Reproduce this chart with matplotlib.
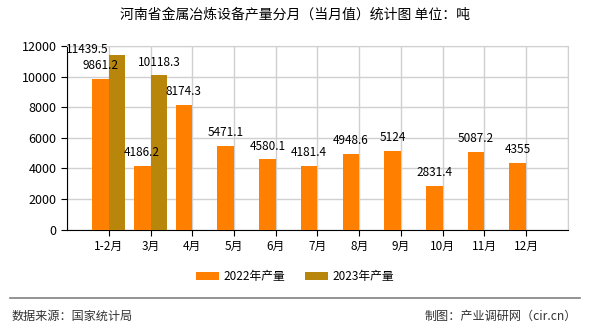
import matplotlib
matplotlib.use("Agg")
import matplotlib.pyplot as plt
import numpy as np

plt.rcParams['font.family'] = ['Noto Sans CJK SC', 'DejaVu Sans']

months = ['1-2月', '3月', '4月', '5月', '6月', '7月', '8月', '9月', '10月', '11月', '12月']
prod_2022 = [9861.2, 4186.2, 8174.3, 5471.1, 4580.1, 4181.4, 4948.6, 5124, 2831.4, 5087.2, 4355]
prod_2023 = [11439.5, 10118.3]
labels_2022 = ['9861.2', '4186.2', '8174.3', '5471.1', '4580.1', '4181.4', '4948.6', '5124', '2831.4', '5087.2', '4355']
labels_2023 = ['11439.5', '10118.3']

c22 = '#FF8000'
c23 = '#B8860B'

fig = plt.figure(figsize=(5.9, 3.3), dpi=100)
ax = fig.add_axes([0.1136, 0.3045, 0.849, 0.556])

x = np.arange(len(months))
w = 0.4
b22 = ax.bar(x - w / 2, prod_2022, w, color=c22, label='2022年产量', zorder=3)
b23 = ax.bar(x[:len(prod_2023)] + w / 2, prod_2023, w, color=c23, label='2023年产量', zorder=3)

for rect, s in zip(b22, labels_2022):
    ax.annotate(s, (rect.get_x() + rect.get_width() / 2, rect.get_height()),
                xytext=(0, 5), textcoords='offset points', ha='center', va='bottom',
                fontsize=8.5, zorder=5)
# first 2023 label is pushed left/down in the original (top of plot)
offsets = [(-30, -1), (0, 4)]
for rect, s, (dx, dy) in zip(b23, labels_2023, offsets):
    ax.annotate(s, (rect.get_x() + rect.get_width() / 2, rect.get_height()),
                xytext=(dx * 0.72, dy), textcoords='offset points', ha='center', va='bottom',
                fontsize=8.5, zorder=5, annotation_clip=False)

ax.set_xlim(-1, len(months))
ax.set_ylim(0, 12000)
ax.set_yticks(np.arange(0, 12001, 2000))
ax.set_xticks(x)
ax.set_xticklabels(months, fontsize=8.5)
ax.tick_params(axis='y', labelsize=9, length=4)
ax.tick_params(axis='x', length=4)
ax.set_xticks(np.arange(-1, len(months) + 1), minor=True)
ax.tick_params(axis='x', which='minor', length=0)
ax.grid(True, which='major', color='#d0d0d0', linewidth=1, zorder=0)
ax.grid(True, which='minor', axis='x', color='#d0d0d0', linewidth=1, zorder=0)
for side in ['top', 'right']:
    ax.spines[side].set_color('#d0d0d0')
ax.spines['left'].set_color('black')
ax.spines['bottom'].set_color('black')
ax.set_axisbelow(True)

fig.text(0.5, 0.955, '河南省金属冶炼设备产量分月（当月值）统计图 单位：吨', ha='center', va='center', fontsize=10)

fig.legend(handles=[b22, b23], loc='center', bbox_to_anchor=(0.5, 0.162), ncol=2,
           frameon=False, fontsize=8.5, handlelength=2.0, handleheight=0.7, columnspacing=1.6,
           handletextpad=0.4)

fig.add_artist(plt.Line2D([0.017, 0.983], [0.097, 0.097], color='#808080', linewidth=1.2))
fig.text(0.02, 0.042, '数据来源：国家统计局', ha='left', va='center', fontsize=8.7, color='#333333')
fig.text(0.978, 0.042, '制图：产业调研网（cir.cn）', ha='right', va='center', fontsize=8.7, color='#333333')

fig.savefig('out.png', dpi=100)
